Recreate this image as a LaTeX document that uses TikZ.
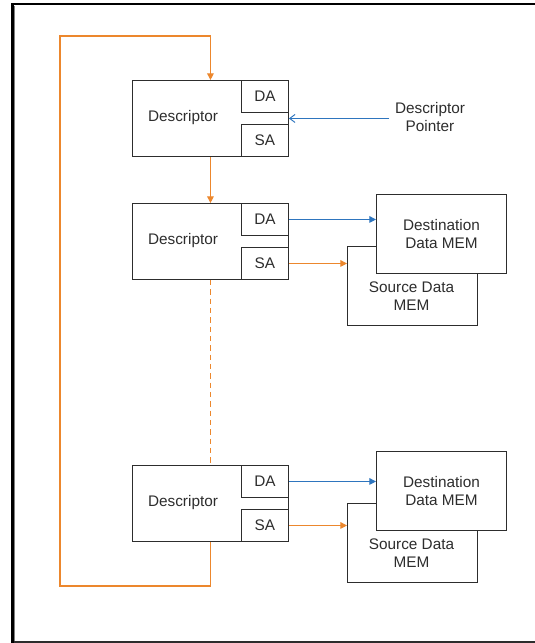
\documentclass[tikz,border=0pt]{standalone}
\usepackage{fontspec}
\setmainfont{Liberation Sans}
\usetikzlibrary{arrows.meta}
\definecolor{looporange}{RGB}{236,135,45}
\definecolor{ptrblue}{RGB}{46,117,190}
\definecolor{edgegray}{RGB}{45,45,45}
\tikzset{
  descbox/.style={draw=edgegray, line width=0.7pt, fill=white, anchor=north west,
    minimum width=117pt, minimum height=57pt, inner sep=0pt},
  fieldbox/.style={draw=edgegray, line width=0.7pt, fill=white,
    minimum width=35.25pt, minimum height=24pt, inner sep=0pt},
  membox/.style={draw=edgegray, line width=0.7pt, fill=white, anchor=north west,
    minimum width=97.5pt, minimum height=59.5pt, inner sep=0pt},
  txt/.style={font=\fontsize{11.5}{14}\selectfont, text=edgegray, align=center, inner sep=1pt},
  orflow/.style={draw=looporange, line width=0.8pt, -{Triangle[length=5pt,width=5pt]}},
  orline/.style={draw=looporange, line width=0.8pt},
  bluflow/.style={draw=ptrblue, line width=0.8pt, -{Triangle[length=5pt,width=5pt]}},
  ptrflow/.style={draw=ptrblue, line width=0.7pt, -{Straight Barb[length=4pt,width=6pt]}}
}
\begin{document}
\begin{tikzpicture}[x=0.75pt, y=-0.75pt]
\useasboundingbox (0,0) rectangle (535,643);
% outer frame
\draw[black, line width=2pt] (12.5,643) -- (12.5,4) -- (535,4);
\draw[gray, line width=1pt] (14.5,643) -- (14.5,6);
\draw[edgegray, line width=1.2pt] (14,642) -- (535,642);

% descriptors
\node[descbox] (desc1) at (132,80) {};
\node[fieldbox, anchor=north east] (da1) at (desc1.north east) {};
\node[fieldbox, anchor=south east] (sa1) at (desc1.south east) {};
\node[txt] (da1lbl) at (da1.center) {DA};
\node[txt] (sa1lbl) at (sa1.center) {SA};
\node[txt] (desc1lbl) at (183,118) {Descriptor};

\node[descbox] (desc2) at (132,203) {};
\node[fieldbox, anchor=north east] (da2) at (desc2.north east) {};
\node[fieldbox, anchor=south east] (sa2) at (desc2.south east) {};
\node[txt] (da2lbl) at (da2.center) {DA};
\node[txt] (sa2lbl) at (sa2.center) {SA};
\node[txt] (desc2lbl) at (183,241) {Descriptor};

\node[descbox] (desc3) at (132,465) {};
\node[fieldbox, anchor=north east] (da3) at (desc3.north east) {};
\node[fieldbox, anchor=south east] (sa3) at (desc3.south east) {};
\node[txt] (da3lbl) at (da3.center) {DA};
\node[txt] (sa3lbl) at (sa3.center) {SA};
\node[txt] (desc3lbl) at (183,503) {Descriptor};

% memories (source under destination)
\node[membox] (src1) at (347,246) {};
\node[txt] (src1lbl) at (411.5,296) {Source Data\\MEM};
\node[membox] (dst1) at (376,194) {};
\node[txt] (dst1lbl) at (dst1.center) {Destination\\Data MEM};

\node[membox] (src2) at (347,503) {};
\node[txt] (src2lbl) at (411.5,553) {Source Data\\MEM};
\node[membox] (dst2) at (376,451) {};
\node[txt] (dst2lbl) at (dst2.center) {Destination\\Data MEM};

% pointer
\node[txt] (ptr) at (430,117) {Descriptor\\Pointer};
\draw[ptrflow] (ptr.west |- desc1.east) ++(-4,0) -- (desc1.east);

% chain
\coordinate (loopbl) at (60,586);
\coordinate (looptl) at (60,36);
\draw[orflow] (desc1.south) -- (desc2.north);
\draw[orline, dash pattern=on 4pt off 3pt] (desc2.south) -- (desc3.north);
\draw[orflow] (desc3.south) |- (loopbl) -- (looptl) -| (desc1.north);

% addresses
\draw[bluflow] (da2.east) -- (dst1.west |- da2.east);
\draw[orflow] (sa2.east) -- (src1.west |- sa2.east);
\draw[bluflow] (da3.east) -- (dst2.west |- da3.east);
\draw[orflow] (sa3.east) -- (src2.west |- sa3.east);
\end{tikzpicture}
\end{document}
